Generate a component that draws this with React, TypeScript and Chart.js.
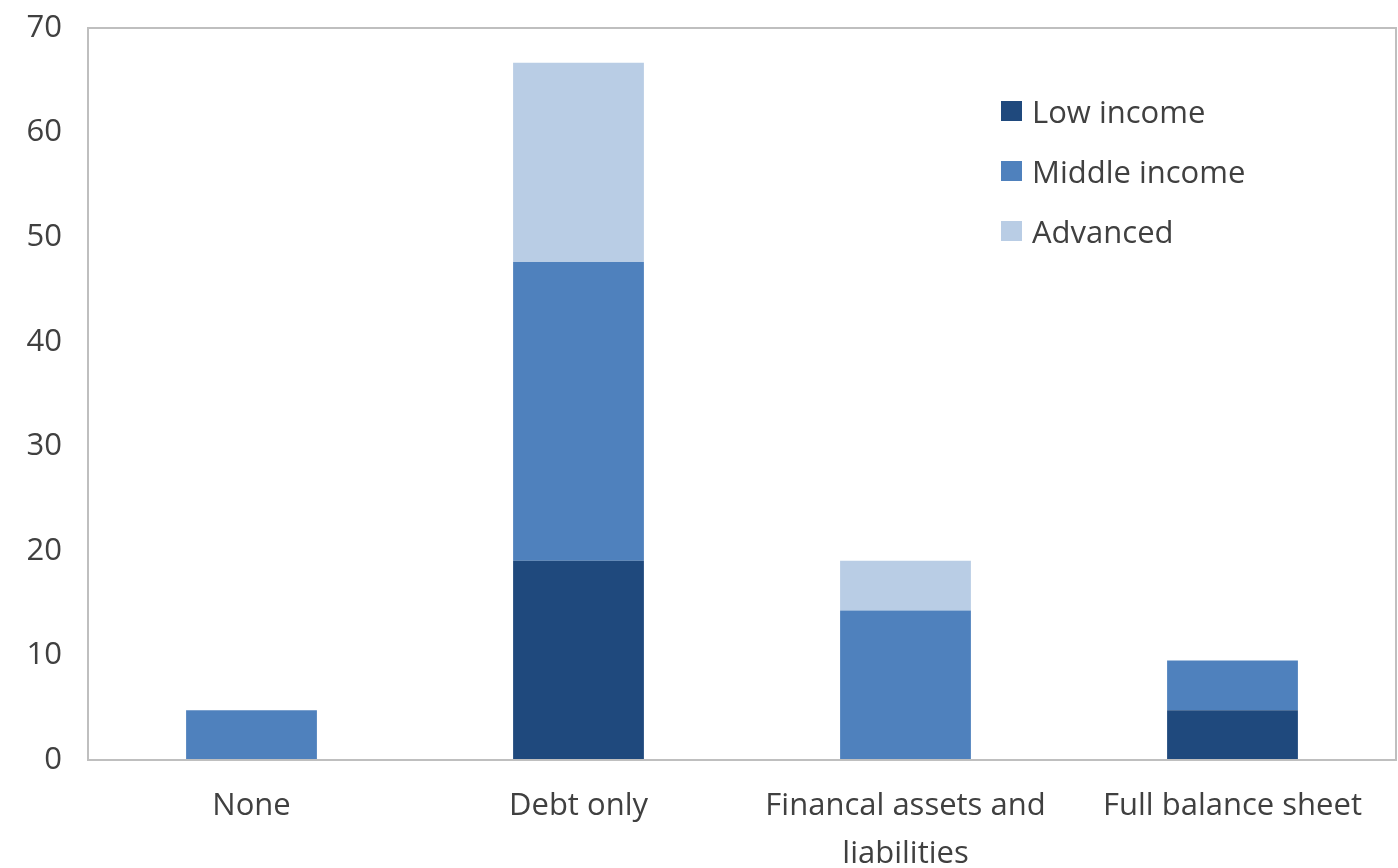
import React, { useEffect, useRef } from "react";
import { Chart, registerables } from "chart.js";

Chart.register(...registerables);

const categories: (string | string[])[] = ["None", "Debt only", ["Financal assets and", "liabilities"], "Full balance sheet"];
const lowIncome = [0, 19.05, 0, 4.76];
const middleIncome = [4.76, 28.57, 14.29, 4.76];
const advanced = [0, 19.05, 4.76, 0];
const seriesNames = ["Low income", "Middle income", "Advanced"];
const seriesColors = ["#1F497D", "#4F81BD", "#B9CDE5"];
const yTicks = [0, 10, 20, 30, 40, 50, 60, 70];

const FONT = "'Open Sans', 'Noto Sans', sans-serif";
const FS = 31;

const frame = {
  id: "frame",
  afterDatasetsDraw(chart: any) {
    const { ctx, chartArea } = chart;
    ctx.save();
    ctx.strokeStyle = "#BFBFBF";
    ctx.lineWidth = 2;
    ctx.strokeRect(chartArea.left, chartArea.top, chartArea.right - chartArea.left, chartArea.bottom - chartArea.top);
    ctx.restore();
  },
};

export default function App() {
  const ref = useRef<HTMLCanvasElement>(null);
  useEffect(() => {
    if (!ref.current) return;
    const data = [lowIncome, middleIncome, advanced];
    const chart = new Chart(ref.current, {
      type: "bar",
      data: {
        labels: categories as any,
        datasets: data.map((d, i) => ({
          label: seriesNames[i],
          data: d,
          backgroundColor: seriesColors[i],
          borderWidth: 0,
          barPercentage: 0.4,
          categoryPercentage: 1,
        })),
      },
      options: {
        animation: false,
        responsive: true,
        maintainAspectRatio: false,
        layout: { padding: { top: 28, right: 2, left: 0, bottom: 0 } },
        plugins: { legend: { display: false }, tooltip: { enabled: false } },
        scales: {
          x: {
            stacked: true,
            grid: { display: false, drawTicks: false },
            border: { display: false },
            ticks: {
              color: "#404040",
              font: { family: FONT, size: FS, lineHeight: 48 / FS },
              padding: 22,
              maxRotation: 0,
              autoSkip: false,
            },
            afterFit(scale: any) {
              scale.height = 108;
              scale.paddingLeft = 0;
              scale.paddingRight = 0;
            },
          },
          y: {
            stacked: true,
            min: 0,
            max: 70,
            afterBuildTicks(scale: any) {
              scale.ticks = yTicks.map((v) => ({ value: v }));
            },
            grid: { display: false, drawTicks: false },
            border: { display: false },
            ticks: {
              color: "#404040",
              font: { family: FONT, size: FS },
              padding: 26,
            },
            afterFit(scale: any) {
              scale.width = 88;
              scale.paddingTop = 0;
              scale.paddingBottom = 0;
            },
          },
        },
      },
      plugins: [frame],
    });
    return () => chart.destroy();
  }, []);

  return (
    <div style={{ position: "absolute", left: 0, top: 0, width: 1398, height: 868, background: "#fff" }}>
      <canvas ref={ref} />
      <div style={{ position: "absolute", left: 1001, top: 81, fontFamily: FONT, fontSize: FS, color: "#404040" }}>
        {seriesNames.map((n, i) => (
          <div key={n} style={{ display: "flex", alignItems: "center", height: 60 }}>
            <span style={{ width: 21, height: 20, background: seriesColors[i], marginRight: 10, display: "inline-block" }} />
            <span>{n}</span>
          </div>
        ))}
      </div>
    </div>
  );
}
